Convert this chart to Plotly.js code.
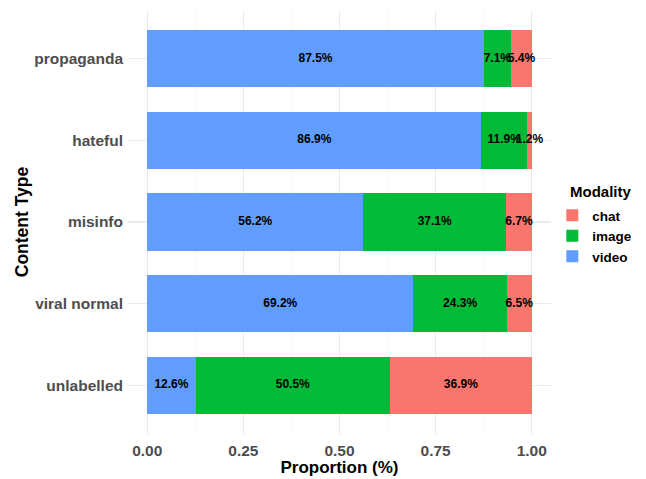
<!DOCTYPE html>
<html>
<head>
<meta charset="utf-8">
<script src="https://cdn.plot.ly/plotly-3.0.1.min.js"></script>
<style>html,body{margin:0;padding:0;background:#fff}#chart{width:646px;height:479px}</style>
</head>
<body>
<div id="chart"></div>
<script>
const categories = ['propaganda', 'hateful', 'misinfo', 'viral normal', 'unlabelled'];
const video = [87.5, 86.9, 56.2, 69.2, 12.6];
const image = [7.1, 11.9, 37.1, 24.3, 50.5];
const chat = [5.4, 1.2, 6.7, 6.5, 36.9];
const xTicks = [0, 0.25, 0.5, 0.75, 1.0];
const xTickLabels = ['0.00', '0.25', '0.50', '0.75', '1.00'];

const series = [
  {name: 'video', vals: video, color: '#619CFF'},
  {name: 'image', vals: image, color: '#00BA38'},
  {name: 'chat', vals: chat, color: '#F8766D'}
];

const traces = [];
series.forEach(s => {
  traces.push({
    type: 'bar', orientation: 'h', name: s.name,
    y: categories, x: s.vals.map(v => v / 100),
    marker: {color: s.color, line: {width: 0}},
    width: 0.7, hoverinfo: 'none'
  });
});
// labels at segment centers
const lx = [], ly = [], lt = [];
categories.forEach((c, i) => {
  let cum = 0;
  series.forEach(s => {
    const v = s.vals[i] / 100;
    lx.push(cum + v / 2); ly.push(c); lt.push(s.vals[i].toFixed(1) + '%');
    cum += v;
  });
});
traces.push({
  type: 'scatter', mode: 'text', x: lx, y: ly, text: lt,
  textfont: {family: 'Liberation Sans, Arial, sans-serif', size: 12, color: '#000', weight: 'bold'},
  showlegend: false, hoverinfo: 'none', cliponaxis: false
});

const layout = {
  width: 646, height: 479,
  margin: {l: 128, r: 95, t: 10, b: 45},
  paper_bgcolor: '#fff', plot_bgcolor: '#fff',
  barmode: 'stack', bargap: 0.3,
  font: {family: 'Liberation Sans, Arial, sans-serif', color: '#4D4D4D'},
  xaxis: {
    range: [-0.05, 1.05], tickvals: xTicks, ticktext: xTickLabels,
    showgrid: true, gridcolor: '#EBEBEB', gridwidth: 1.1,
    minor: {dtick: 0.125, tick0: 0.125, showgrid: true, gridcolor: '#F3F3F3', gridwidth: 0.6},
    zeroline: false, showline: false, ticks: '',
    ticklabelstandoff: 5,
    tickfont: {size: 15.5, color: '#4D4D4D', weight: 'bold'},
    title: {text: 'Proportion (%)', font: {size: 17, color: '#000', weight: 'bold'}, standoff: 2}
  },
  yaxis: {
    type: 'category', categoryorder: 'array', categoryarray: categories.slice().reverse(),
    range: [-0.6, 4.6],
    showgrid: true, gridcolor: '#EBEBEB', gridwidth: 1.1,
    zeroline: false, showline: false, ticks: '',
    tickfont: {size: 15.5, color: '#4D4D4D', weight: 'bold'},
    ticklabelstandoff: 4,
    title: {text: 'Content Type', font: {size: 17.5, color: '#000', weight: 'bold'}, standoff: 1}
  },
  legend: {
    xref: 'container', yref: 'container',
    x: 0.855, xanchor: 'left', y: 0.5825, yanchor: 'top',
    traceorder: 'reversed',
    font: {size: 13.5, color: '#000', weight: 'bold'},
    itemwidth: 30, tracegroupgap: 0
  },
  annotations: [{
    text: 'Modality', xref: 'paper', yref: 'paper', x: 1.040, y: 0.571,
    xanchor: 'left', yanchor: 'middle', showarrow: false,
    font: {size: 15, color: '#000', weight: 'bold', family: 'Liberation Sans, Arial, sans-serif'}
  }],
  showlegend: true
};

Plotly.newPlot('chart', traces, layout, {displayModeBar: false, staticPlot: true});
</script>
</body>
</html>
